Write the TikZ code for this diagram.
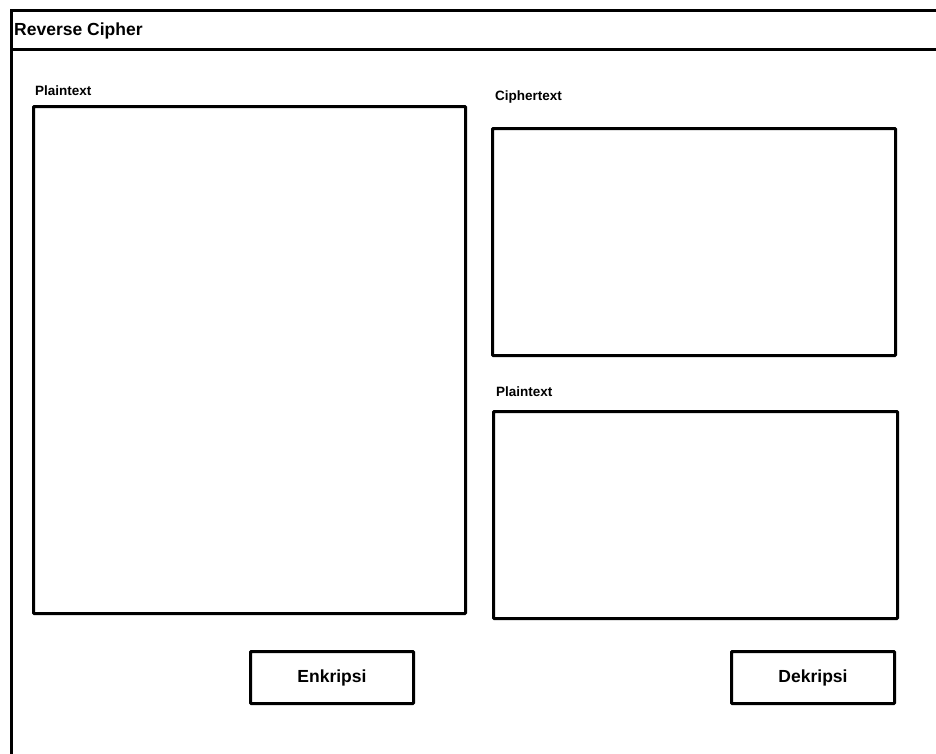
\documentclass[tikz,border=0pt]{standalone}
\usepackage{fontspec}
\setmainfont{Liberation Sans}
\begin{document}
\begin{tikzpicture}[x=1pt,y=-1pt,
  frame/.style={line width=3pt},
  field/.style={draw,line width=3pt,rounded corners=0.8pt,inner sep=0pt,anchor=north west},
  fieldlabel/.style={anchor=base west,inner sep=0pt,font=\fontsize{13.5}{15}\selectfont\bfseries},
  button/.style={draw,line width=3pt,rounded corners=0.8pt,inner sep=0pt,
    minimum width=163pt,minimum height=52pt,font=\fontsize{17.5}{20}\selectfont\bfseries}]
  \useasboundingbox (0,0) rectangle (936,753);
  \begin{scope}
    \clip (0,0) rectangle (936,753);
    % window frame and title bar
    \draw[frame] (11,760) -- (11,10) -- (945,10);
    \draw[frame] (11,49) -- (945,49);
  \end{scope}
  \node[anchor=base west,inner sep=0pt,font=\fontsize{17.5}{20}\selectfont\bfseries] (title) at (14,35) {Reverse Cipher};

  % encryption input
  \node[fieldlabel] (lblplain) at (35,95) {Plaintext};
  \node[field,minimum width=432pt,minimum height=507pt] (plainin) at (32,105) {};

  % cipher output
  \node[fieldlabel] (lblcipher) at (495,100) {Ciphertext};
  \node[field,minimum width=403pt,minimum height=227pt] (cipherout) at (491,127) {};

  % decryption output
  \node[fieldlabel] (lblplainout) at (496,396) {Plaintext};
  \node[field,minimum width=404pt,minimum height=207pt] (plainout) at (492,410) {};

  % action buttons
  \node[button] (enc) at (332,677.5) {Enkripsi};
  \node[button] (dec) at (813,677.5) {Dekripsi};
\end{tikzpicture}
\end{document}
